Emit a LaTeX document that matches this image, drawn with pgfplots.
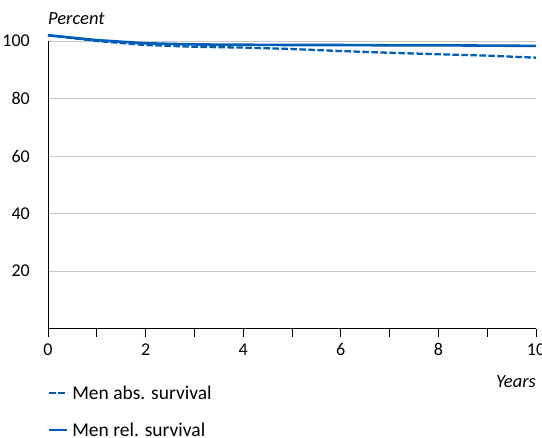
\documentclass[border=0pt]{standalone}
\usepackage{pgfplots}
\pgfplotsset{compat=1.18}
\usepackage{fontspec}
\setmainfont{Carlito}
\definecolor{lineblue}{RGB}{0,94,184}
\definecolor{gridgrey}{RGB}{200,200,200}
\begin{document}
\fontsize{18bp}{21bp}\selectfont
\begin{tikzpicture}
\useasboundingbox (-48bp,-109.5bp) rectangle (494bp,328.5bp);
\begin{axis}[
  at={(0,0)}, anchor=south west,
  scale only axis, width=488bp, height=287.5bp,
  xmin=0, xmax=10, ymin=0, ymax=100,
  clip=false,
  axis x line*=bottom, axis y line*=left,
  x axis line style={-, line width=0.8pt},
  y axis line style={-, line width=0.8pt},
  xtick={0,1,...,10},
  xticklabels={0,,2,,4,,6,,8,,10},
  xtick style={black, line width=0.8pt},
  tick align=outside, major tick length=8bp,
  ytick={20,40,60,80,100},
  ytick style={draw=none},
  ymajorgrids, grid style={gridgrey, line width=0.9pt},
  tick label style={font=\fontsize{18bp}{21bp}\selectfont},
  /pgf/number format/assume math mode=true,
  yticklabel style={xshift=-4bp},
  xticklabel style={yshift=-1bp},
  legend style={draw=none, fill=none, at={(axis cs:0,-20)}, anchor=north west,
    font=\fontsize{19.5bp}{22bp}\selectfont, row sep=23.5bp, inner sep=0pt,
    nodes={inner sep=0pt, text depth=0pt}},
  legend cell align=left,
  legend image code/.code={\draw[#1] (0bp,0bp) -- (18bp,0bp);},
  /tikz/every odd column/.append style={column sep=3.5bp},
]
\addplot[lineblue, line width=2.3pt, dash pattern=on 6.5bp off 2.5bp] coordinates {
(0,102) (1,100.0) (2,98.6) (3,98.0) (4,97.7) (5,97.2) (6,96.5) (7,95.9) (8,95.4) (9,94.9) (10,94.2)
};
\addlegendentry{Men abs. survival}
\addplot[lineblue, line width=2.6pt] coordinates {
(0,102) (1,100.3) (2,99.2) (3,98.8) (4,98.7) (5,98.6) (6,98.6) (7,98.5) (8,98.5) (9,98.4) (10,98.3)
};
\addlegendentry{Men rel. survival}
\node[anchor=south west, font=\itshape\fontsize{18.5bp}{21bp}\selectfont, inner sep=0pt] at (axis cs:0,105.5) {Percent};
\node[anchor=east, font=\itshape\fontsize{18.5bp}{21bp}\selectfont, inner sep=0pt] at (axis cs:10,-18.5) {Years};
\end{axis}
\end{tikzpicture}
\end{document}
